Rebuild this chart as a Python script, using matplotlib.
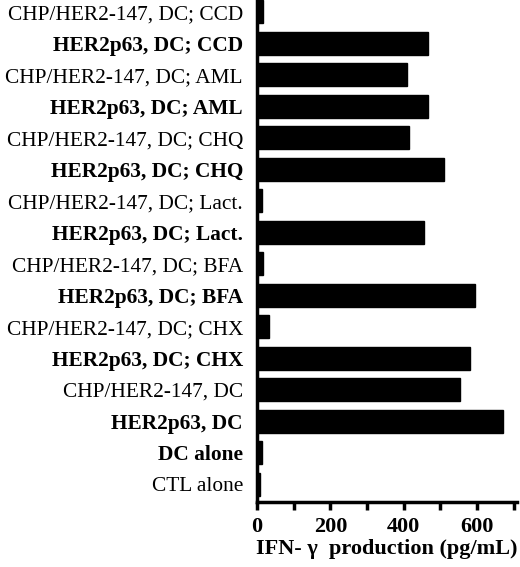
import matplotlib
matplotlib.use("Agg")
import matplotlib.pyplot as plt
from matplotlib.ticker import MultipleLocator

categories = [
    "CHP/HER2-147, DC; CCD",
    "HER2p63, DC; CCD",
    "CHP/HER2-147, DC; AML",
    "HER2p63, DC; AML",
    "CHP/HER2-147, DC; CHQ",
    "HER2p63, DC; CHQ",
    "CHP/HER2-147, DC; Lact.",
    "HER2p63, DC; Lact.",
    "CHP/HER2-147, DC; BFA",
    "HER2p63, DC; BFA",
    "CHP/HER2-147, DC; CHX",
    "HER2p63, DC; CHX",
    "CHP/HER2-147, DC",
    "HER2p63, DC",
    "DC alone",
    "CTL alone",
]
values = [16, 467, 410, 467, 415, 510, 15, 454, 17, 593, 34, 581, 554, 669, 15, 8]
x_ticks = [0, 200, 400, 600]
x_label = "IFN- γ  production (pg/mL)"

plt.rcParams['font.family'] = ['Liberation Serif', 'DejaVu Serif']

fig = plt.figure(figsize=(5.2, 5.67), dpi=100)
ax = fig.add_axes([0.494, 0.1146, 0.5, 0.8854])

n = len(categories)
pos = list(range(n))
ax.barh(pos, values, height=0.73, color="black", edgecolor="black")
ax.set_ylim(n - 1 + 0.57, -0.38)
ax.set_xlim(0, 708)

ax.set_yticks(pos)
ax.set_yticklabels(categories, fontsize=15.4)
for lbl in ax.get_yticklabels():
    t = lbl.get_text()
    if t.startswith("HER2p63") or t == "DC alone":
        lbl.set_fontweight("bold")
ax.tick_params(axis="y", length=0, pad=10)

ax.set_xticks(x_ticks)
ax.xaxis.set_minor_locator(MultipleLocator(100))
ax.tick_params(axis="x", which="both", direction="out", length=6, width=2.5, labelsize=16, pad=5)
for lbl in ax.get_xticklabels():
    lbl.set_fontweight("bold")
ax.set_xlabel(x_label, fontsize=16, fontweight="bold", labelpad=1)

for s in ["top", "right"]:
    ax.spines[s].set_visible(False)
ax.spines["left"].set_linewidth(2.5)
ax.spines["bottom"].set_linewidth(2.5)

fig.savefig("out.png", dpi=100)
